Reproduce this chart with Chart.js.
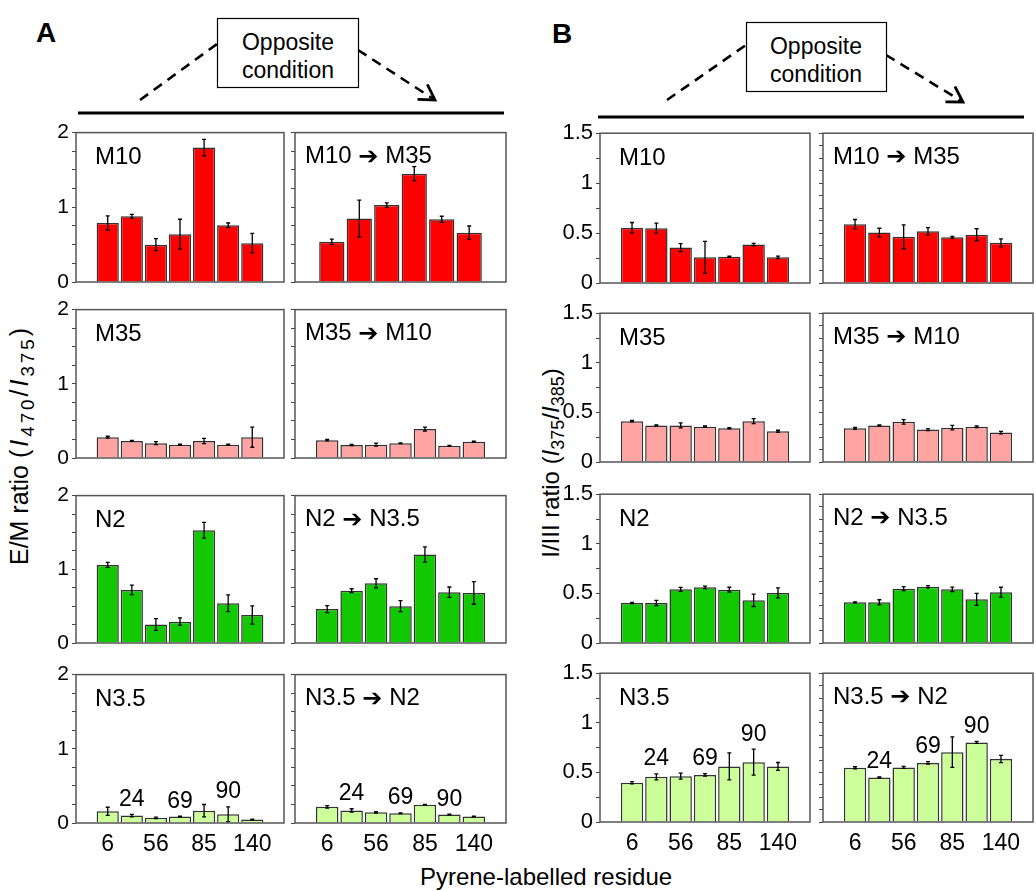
<!DOCTYPE html>
<html lang="en">
<head>
<meta charset="UTF-8">
<title>Pyrene E/M and I/III ratios</title>
<script src="https://cdn.jsdelivr.net/npm/chart.js"></script>
<style>
    body {
        margin: 0;
        width: 1036px;
        height: 891px;
        position: relative;
        overflow: hidden;
        background: #fff;
        font-family: 'Liberation Sans', Arial, sans-serif;
    }

    canvas.panel {
        position: absolute;
    }

    .txt {
        position: absolute;
        white-space: nowrap;
        color: #000;
        transform: translate(-50%, -50%);
    }

    .ytitle {
        position: absolute;
        white-space: nowrap;
        font-size: 25px;
        transform: translate(-50%, -50%) rotate(-90deg);
    }

    sub {
        font-size: 0.75em;
        vertical-align: -0.3em;
    }

    svg {
        position: absolute;
        left: 0;
        top: 0;
    }
</style>
</head>
<body>

<svg width="1036" height="130">
    <defs>
        <marker id="head" markerWidth="22" markerHeight="22" refX="16" refY="10" orient="auto" markerUnits="userSpaceOnUse">
            <path d="M1,1 L16,10 L1,19" fill="none" stroke="#000" stroke-width="2.8"/>
        </marker>
    </defs>
    <!-- A -->
    <line x1="78" y1="113" x2="504" y2="113" stroke="#000" stroke-width="3"/>
    <line x1="140" y1="100" x2="217" y2="44" stroke="#000" stroke-width="2.6" stroke-dasharray="10 7"/>
    <line x1="358" y1="50" x2="435" y2="100" stroke="#000" stroke-width="2.6" stroke-dasharray="10 7" marker-end="url(#head)"/>
    <rect x="217.5" y="18.5" width="141" height="69" fill="#fff" stroke="#000" stroke-width="1.2"/>
    <!-- B -->
    <line x1="598" y1="117" x2="1024" y2="117" stroke="#000" stroke-width="3"/>
    <line x1="667" y1="100" x2="746" y2="45" stroke="#000" stroke-width="2.6" stroke-dasharray="10 7"/>
    <line x1="886" y1="55" x2="963" y2="102" stroke="#000" stroke-width="2.6" stroke-dasharray="10 7" marker-end="url(#head)"/>
    <rect x="746.5" y="22.5" width="140" height="69" fill="#fff" stroke="#000" stroke-width="1.2"/>
</svg>

<div class="txt" style="left:46px; top:33px; font-size:28px; font-weight:bold">A</div>
<div class="txt" style="left:562px; top:34px; font-size:28px; font-weight:bold">B</div>
<div class="txt" style="left:288px; top:42px; font-size:23px">Opposite</div>
<div class="txt" style="left:288px; top:70px; font-size:23px">condition</div>
<div class="txt" style="left:816px; top:46px; font-size:23px">Opposite</div>
<div class="txt" style="left:816px; top:74px; font-size:23px">condition</div>

<div class="ytitle" style="left:22px; top:445px">E/M ratio <span style="letter-spacing:3px">(<i>I</i><sub>470</sub>/<i>I</i><sub>375</sub>)</span></div>
<div class="ytitle" style="left:553px; top:463px; font-size:24px">I/III ratio (<i>I</i><sub>375</sub>/<i>I</i><sub>385</sub>)</div>
<div class="txt" style="left:546px; top:877px; font-size:24px">Pyrene-labelled residue</div>

<script>
    // residues (x categories)
    const residues = ['6', '24', '56', '69', '85', '90', '140'];
    const xTickLabels = ['6', '', '56', '', '85', '', '140'];
    const markLabels = ['', '24', '', '69', '', '90', ''];

    // A : E/M ratio
    const emM10 = [0.79, 0.88, 0.50, 0.64, 1.80, 0.76, 0.52];
    const emM10Err = [0.095, 0.025, 0.08, 0.2, 0.11, 0.03, 0.13];
    const emM10toM35 = [0.54, 0.85, 1.03, 1.45, 0.84, 0.66];
    const emM10toM35Err = [0.035, 0.245, 0.03, 0.095, 0.04, 0.09];
    const emM35 = [0.28, 0.23, 0.20, 0.18, 0.23, 0.18, 0.28];
    const emM35Err = [0.013, 0.007, 0.02, 0.005, 0.035, 0.007, 0.135];
    const emM35toM10 = [0.24, 0.175, 0.18, 0.20, 0.39, 0.165, 0.22];
    const emM35toM10Err = [0.01, 0.008, 0.02, 0.005, 0.026, 0.005, 0.008];
    const emN2 = [1.06, 0.72, 0.25, 0.29, 1.53, 0.54, 0.38];
    const emN2Err = [0.033, 0.064, 0.08, 0.05, 0.108, 0.114, 0.125];
    const emN2toN35 = [0.46, 0.71, 0.81, 0.50, 1.20, 0.69, 0.68];
    const emN2toN35Err = [0.048, 0.026, 0.062, 0.075, 0.103, 0.07, 0.154];
    const emN35 = [0.157, 0.10, 0.07, 0.087, 0.166, 0.118, 0.048];
    const emN35Err = [0.055, 0.017, 0.01, 0.004, 0.083, 0.1, 0.004];
    const emN35toN2 = [0.218, 0.17, 0.144, 0.131, 0.245, 0.114, 0.087];
    const emN35toN2Err = [0.017, 0.022, 0.01, 0.005, 0.005, 0.005, 0.004];

    // B : I/III ratio
    const iiiM10 = [0.553, 0.549, 0.355, 0.257, 0.263, 0.385, 0.257];
    const iiiM10Err = [0.053, 0.05, 0.04, 0.16, 0.005, 0.012, 0.012];
    const iiiM10toM35 = [0.589, 0.505, 0.463, 0.518, 0.457, 0.483, 0.402];
    const iiiM10toM35Err = [0.047, 0.043, 0.12, 0.037, 0.01, 0.06, 0.04];
    const iiiM35 = [0.412, 0.369, 0.369, 0.356, 0.34, 0.412, 0.31];
    const iiiM35Err = [0.008, 0.005, 0.025, 0.007, 0.007, 0.026, 0.01];
    const iiiM35toM10 = [0.34, 0.369, 0.405, 0.327, 0.346, 0.356, 0.297];
    const iiiM35toM10Err = [0.01, 0.004, 0.023, 0.01, 0.023, 0.008, 0.012];
    const iiiN2 = [0.404, 0.404, 0.541, 0.561, 0.538, 0.43, 0.505];
    const iiiN2Err = [0.006, 0.026, 0.02, 0.013, 0.024, 0.062, 0.05];
    const iiiN2toN35 = [0.41, 0.41, 0.548, 0.567, 0.541, 0.44, 0.512];
    const iiiN2toN35Err = [0.005, 0.026, 0.02, 0.012, 0.022, 0.06, 0.05];
    const iiiN35 = [0.396, 0.455, 0.462, 0.475, 0.56, 0.603, 0.56];
    const iiiN35Err = [0.012, 0.03, 0.03, 0.012, 0.136, 0.131, 0.04];
    const iiiN35toN2 = [0.547, 0.449, 0.55, 0.596, 0.704, 0.802, 0.635];
    const iiiN35toN2Err = [0.01, 0.005, 0.01, 0.013, 0.154, 0.01, 0.036];

    const RED = '#ff0000';
    const PINK = '#ffa3a3';
    const GREEN = '#12c800';
    const LGREEN = '#ccff99';

    // panel geometry (plot area)
    const colsA = [[76, 208], [295, 211]];
    const rowsA = [[129, 153], [306, 152], [492, 151], [671, 152]];
    const colsB = [[600, 210], [823, 210]];
    const rowsB = [[129, 154], [309, 153], [490, 153], [669, 153]];

    const LEFT_W = 50, PAD_T = 12, PAD_R = 12, BOT = 45;
    const FONT = "'Liberation Sans', Arial, sans-serif";
    Chart.defaults.font.family = FONT;

    const panelPlugin = {
        id: 'panel',
        afterDatasetsDraw(chart, args, opts) {
            const { ctx, chartArea: a, scales: { x, y } } = chart;
            const ds = chart.data.datasets[0];
            ctx.save();
            // error bars
            ctx.strokeStyle = '#000';
            ctx.lineWidth = 1.3;
            ds.data.forEach((p, i) => {
                const e = ds.errors[i];
                const px = x.getPixelForValue(p.x);
                const y1 = y.getPixelForValue(p.y + e);
                const y2 = y.getPixelForValue(p.y - e);
                ctx.beginPath();
                ctx.moveTo(px, y1); ctx.lineTo(px, y2);
                ctx.moveTo(px - 2, y1); ctx.lineTo(px + 2, y1);
                ctx.moveTo(px - 2, y2); ctx.lineTo(px + 2, y2);
                ctx.stroke();
            });
            // frame
            ctx.strokeStyle = '#555';
            ctx.lineWidth = 1.5;
            ctx.strokeRect(a.left, a.top, a.right - a.left, a.bottom - a.top);
            // title (condition, arrow, condition)
            ctx.fillStyle = '#000';
            ctx.textAlign = 'left';
            ctx.textBaseline = 'middle';
            let tx = a.left + opts.dx;
            const ty = a.top + opts.dy;
            opts.title.split('|').forEach((part, k) => {
                if (k > 0) {
                    ctx.font = '24px ' + FONT;
                    const sp = ctx.measureText(' ').width;
                    tx += sp;
                    ctx.font = 'bold 24px DejaVu Sans';
                    ctx.fillText('\u2794', tx, ty + 1);
                    tx += ctx.measureText('\u2794').width + sp;
                }
                ctx.font = '24px ' + FONT;
                ctx.fillText(part, tx, ty);
                tx += ctx.measureText(part).width;
            });
            // residue marks above bars
            if (opts.marks) {
                ctx.font = '23px ' + FONT;
                ctx.textAlign = 'center';
                markLabels.forEach((m, i) => {
                    if (!m) return;
                    const p = ds.data[i];
                    ctx.fillText(m, x.getPixelForValue(p.x), y.getPixelForValue(p.y + ds.errors[i]) - 15);
                });
            }
            ctx.restore();
        }
    };

    function makePanel(cfg) {
        const [L, W] = cfg.col;
        const [T, H] = cfg.row;
        const cv = document.createElement('canvas');
        cv.className = 'panel';
        cv.width = W + LEFT_W + PAD_R;
        cv.height = H + PAD_T + BOT;
        cv.style.left = (L - LEFT_W) + 'px';
        cv.style.top = (T - PAD_T) + 'px';
        document.body.appendChild(cv);

        const n = cfg.values.length;
        const yMax = cfg.group === 'A' ? 2 : 1.5;
        const yStep = cfg.group === 'B' && cfg.right ? 0.125 : 0.25;

        new Chart(cv, {
            type: 'bar',
            data: {
                datasets: [{
                    data: cfg.values.map((v, i) => ({ x: i, y: v })),
                    errors: cfg.errors,
                    backgroundColor: cfg.color,
                    borderColor: '#333',
                    borderWidth: 1.5,
                    barPercentage: 0.92,
                    categoryPercentage: 1
                }]
            },
            options: {
                responsive: false,
                animation: false,
                layout: { padding: { top: PAD_T, right: PAD_R, left: 0, bottom: 0 } },
                plugins: {
                    legend: { display: false },
                    tooltip: { enabled: false },
                    panel: { title: cfg.title, dx: cfg.right ? 10 : 19, dy: cfg.right ? 24 : 25, marks: cfg.marks }
                },
                scales: {
                    x: {
                        type: 'linear',
                        min: -0.7,
                        max: n - 0.3,
                        grid: { display: false, drawTicks: false },
                        border: { display: false },
                        ticks: {
                            stepSize: 1,
                            includeBounds: false,
                            autoSkip: false,
                            maxRotation: 0,
                            padding: 8,
                            color: '#000',
                            font: { size: 23 },
                            callback: v => cfg.xLabels && Number.isInteger(v) ? (xTickLabels[v] || '') : ''
                        },
                        afterFit: s => { s.height = BOT; }
                    },
                    y: {
                        min: 0,
                        max: yMax,
                        grid: { drawOnChartArea: false, tickLength: 4, color: '#444' },
                        border: { display: false },
                        ticks: {
                            stepSize: yStep,
                            autoSkip: false,
                            padding: 3,
                            color: '#000',
                            font: { size: cfg.group === 'A' ? 21 : 22 },
                            callback: v => {
                                if (cfg.right) return '';
                                if (cfg.group === 'A') return Number.isInteger(v) ? String(v) : '';
                                return Number.isInteger(v * 2) ? String(v) : '';
                            }
                        },
                        afterFit: s => { s.width = LEFT_W; }
                    }
                }
            },
            plugins: [panelPlugin]
        });
    }

    // [title, values, errors, opposite title, values, errors, colour]
    const panelsA = [
        ['M10', emM10, emM10Err, 'M10|M35', emM10toM35, emM10toM35Err, RED],
        ['M35', emM35, emM35Err, 'M35|M10', emM35toM10, emM35toM10Err, PINK],
        ['N2', emN2, emN2Err, 'N2|N3.5', emN2toN35, emN2toN35Err, GREEN],
        ['N3.5', emN35, emN35Err, 'N3.5|N2', emN35toN2, emN35toN2Err, LGREEN]
    ];
    const panelsB = [
        ['M10', iiiM10, iiiM10Err, 'M10|M35', iiiM10toM35, iiiM10toM35Err, RED],
        ['M35', iiiM35, iiiM35Err, 'M35|M10', iiiM35toM10, iiiM35toM10Err, PINK],
        ['N2', iiiN2, iiiN2Err, 'N2|N3.5', iiiN2toN35, iiiN2toN35Err, GREEN],
        ['N3.5', iiiN35, iiiN35Err, 'N3.5|N2', iiiN35toN2, iiiN35toN2Err, LGREEN]
    ];

    [['A', panelsA, colsA, rowsA], ['B', panelsB, colsB, rowsB]].forEach(([group, list, cols, rows]) => {
        list.forEach((p, r) => {
            const last = r === rows.length - 1;
            makePanel({ group, row: rows[r], col: cols[0], title: p[0], values: p[1], errors: p[2], color: p[6], right: false, xLabels: last, marks: last });
            makePanel({ group, row: rows[r], col: cols[1], title: p[3], values: p[4], errors: p[5], color: p[6], right: true, xLabels: last, marks: last });
        });
    });
</script>
</body>
</html>
